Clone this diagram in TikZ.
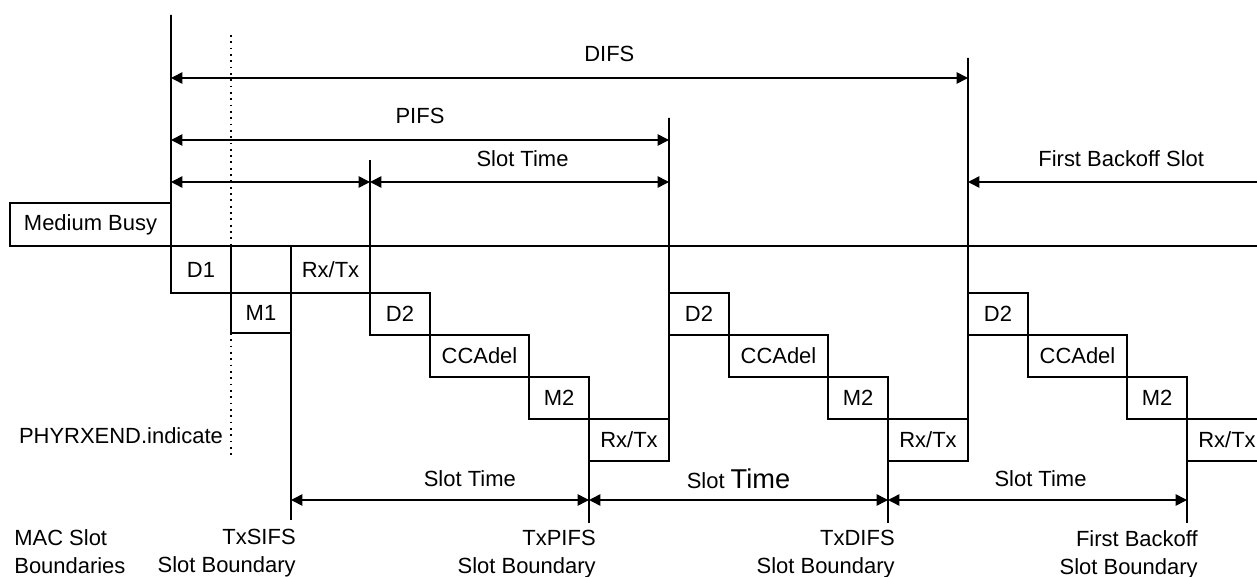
\documentclass[tikz,border=0pt]{standalone}
\usepackage{fontspec}
\setmainfont{Liberation Sans}
\usetikzlibrary{arrows.meta,positioning,calc}
\newcommand{\lblfont}{\fontsize{12.5}{16}\selectfont}
\tikzset{
  wh/.style 2 args={minimum width=#1*0.02cm, minimum height=#2*0.02cm},
  slotbox/.style={draw, line width=0.9pt, inner sep=0pt, outer sep=0pt,
    anchor=north west, font=\lblfont},
  bndline/.style={line width=0.9pt},
  dotline/.style={line width=1.2pt, dash pattern=on 1pt off 2.6pt},
  spanarr/.style={line width=0.9pt,
    {Triangle[length=6.5pt,width=6.5pt]}-{Triangle[length=6.5pt,width=6.5pt]}},
  lbl/.style={font=\lblfont, inner sep=1pt},
  bndlbl/.style={font=\lblfont, inner sep=0pt, align=right, anchor=north east},
}

\begin{document}
\begin{tikzpicture}[x=0.02cm, y=-0.02cm]
  \useasboundingbox (0,0) rectangle (1257,577);
  \clip (0,0) rectangle (1257,577);

  % Medium busy and first row
  \node[slotbox, wh={161}{43}] (busy) at (10,203) {Medium Busy};
  \node[slotbox, wh={60}{47}] (d1) at (171,246) {D1};
  \node[slotbox, wh={60}{47}] (gap) at (d1.north east) {};
  \node[slotbox, wh={79}{47}] (rx0) at (gap.north east) {Rx/Tx};
  \node[slotbox, wh={60}{40}] (m1) at (gap.south west) {M1};

  % Three slot staircases
  \foreach \s/\x in {a/370, b/669, c/968} {
    \node[slotbox, wh={60}{42}] (d2\s) at (\x,293) {D2};
    \node[slotbox, wh={99}{42}] (cca\s) at (d2\s.south east) {CCAdel};
    \node[slotbox, wh={60}{42}] (m2\s) at (cca\s.south east) {M2};
    \node[slotbox, wh={80}{42}] (rx\s) at (m2\s.south east) {Rx/Tx};
  }

  \coordinate (busyTop) at (171,15);
  \coordinate (sifsTop) at (370,160);
  \coordinate (pifsTop) at (669,118);
  \coordinate (difsTop) at (968,58);
  \coordinate (rowEnd) at (1257,246);
  \coordinate (rxEnd) at (231,35);
  \coordinate (phyEnd) at (231,455);
  \coordinate (sifsBot) at ($(m1.south east)+(0,187)$);
  \coordinate (pifsBot) at ($(rxa.south west)+(0,62)$);
  \coordinate (difsBot) at ($(rxb.south west)+(0,62)$);
  \coordinate (boffBot) at ($(rxc.south west)+(0,62)$);
  \coordinate (lvDifs) at (0,78);
  \coordinate (lvPifs) at (0,140);
  \coordinate (lvSlot) at (0,182);
  \coordinate (lvMac) at (0,500);

  % Boundary lines
  \draw[bndline] (busyTop) -- (busy.south east) -- (rowEnd);
  \draw[bndline] (sifsTop) -- (d2a.north west);
  \draw[bndline] (pifsTop) -- (rxa.north east);
  \draw[bndline] (difsTop) -- (rxb.north east);
  \draw[bndline] (m1.south east) -- (sifsBot);
  \draw[bndline] (rxa.south west) -- (pifsBot);
  \draw[bndline] (rxb.south west) -- (difsBot);
  \draw[bndline] (rxc.south west) -- (boffBot);
  \draw[dotline] (rxEnd) -- (gap.north west);
  \draw[dotline] (m1.south west) -- (phyEnd);
  \node[lbl, anchor=east] (phy) at (225,436) {PHYRXEND.indicate};

  % Interframe spaces
  \draw[spanarr] (busyTop |- lvDifs) -- (difsTop |- lvDifs)
    node[lbl, pos=0.55, above=8pt] (difs) {DIFS};
  \draw[spanarr] (busyTop |- lvPifs) -- (pifsTop |- lvPifs)
    node[lbl, midway, above=8pt] (pifs) {PIFS};
  \draw[spanarr] (busyTop |- lvSlot) -- (sifsTop |- lvSlot);
  \draw[spanarr] (sifsTop |- lvSlot) -- (pifsTop |- lvSlot)
    node[lbl, pos=0.51, above=7.5pt] (slot0) {Slot Time};
  \draw[line width=0.9pt, {Triangle[length=6.5pt,width=6.5pt]}-]
    (difsTop |- lvSlot) -- (rowEnd |- lvSlot)
    node[lbl, pos=0.53, above=7pt] (boff) {First Backoff Slot};

  % MAC slot boundaries
  \draw[spanarr] (sifsBot |- lvMac) -- (pifsBot |- lvMac)
    node[lbl, pos=0.6, above=6pt] (slot1) {Slot Time};
  \draw[spanarr] (pifsBot |- lvMac) -- (difsBot |- lvMac)
    node[lbl, pos=0.5, above=5pt] (slot2) {Slot {\fontsize{15.5}{16}\selectfont Time}};
  \draw[spanarr] (difsBot |- lvMac) -- (boffBot |- lvMac)
    node[lbl, pos=0.51, above=6pt] (slot3) {Slot Time};

  \node[font=\lblfont, inner sep=0pt, align=left, anchor=north west] (macb)
    at (14,529) {MAC Slot\\Boundaries};
  \node[bndlbl] (txsifs) at ($(sifsBot)+(5,9)$) {TxSIFS\\Slot Boundary};
  \node[bndlbl] (txpifs) at ($(pifsBot)+(7,7)$) {TxPIFS\\Slot Boundary};
  \node[bndlbl] (txdifs) at ($(difsBot)+(7,7)$) {TxDIFS\\Slot Boundary};
  \node[bndlbl] (txboff) at ($(boffBot)+(11,7)$) {First Backoff\\Slot Boundary};
\end{tikzpicture}
\end{document}
